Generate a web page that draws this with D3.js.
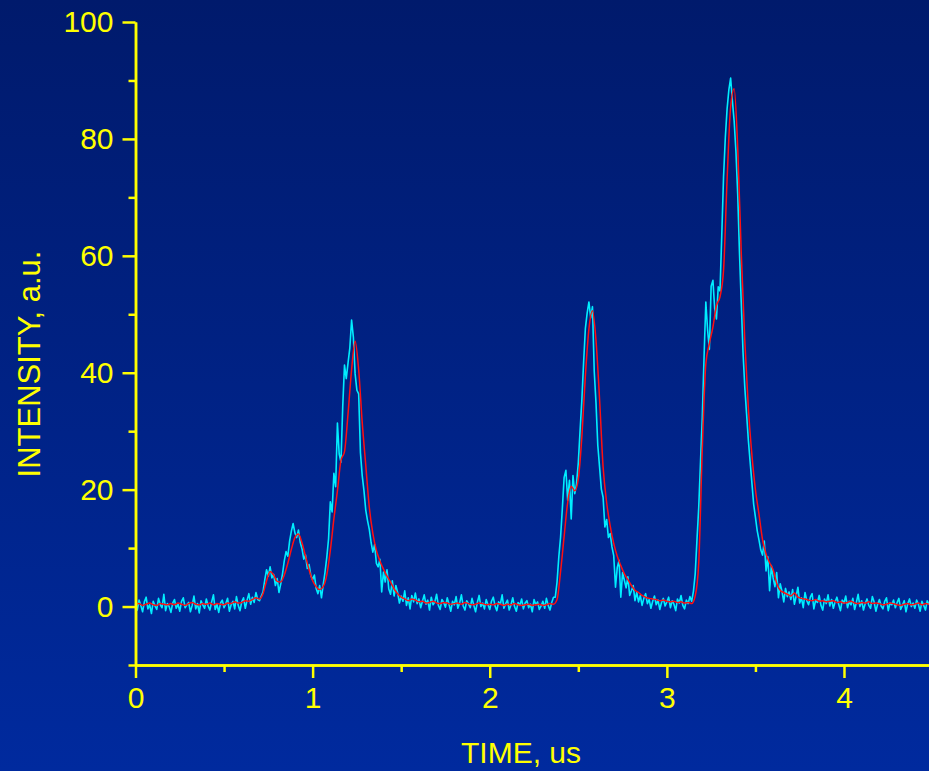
<!DOCTYPE html>
<html>
<head>
<meta charset="utf-8">
<script src="https://cdn.jsdelivr.net/npm/d3@7"></script>
<style>
  html, body { margin: 0; padding: 0; background: #00217f; }
  svg { display: block; }
</style>
</head>
<body>
<div id="chart"></div>
<script>
// Measured signal (cyan), one sample every 0.01 us starting at 0.
const rawStep = 0.01;
const rawValues = [
  0.4,-0.6,1.1,0.2,-0.9,0.8,1.6,-0.4,0.3,-1.2,
  0.9,0.1,-0.5,1.4,0.3,-0.2,2.1,-0.7,0.5,0.0,
  -1.0,0.6,1.2,-0.3,0.4,-0.8,0.9,1.5,-0.2,0.3,
  0.7,-0.9,0.2,1.8,-0.4,0.5,-1.1,1.0,0.3,-0.3,
  1.3,0.1,-0.6,0.8,2.0,-0.5,0.4,-1.0,0.6,1.1,
  -0.2,0.5,1.4,-0.8,0.3,0.9,-0.4,1.7,0.2,-0.7,
  0.8,1.5,-0.3,1.1,2.2,0.4,1.6,0.7,2.4,1.2,
  1.0,1.8,2.5,4.6,6.3,5.2,6.8,4.9,5.5,3.6,
  4.8,2.4,3.9,5.6,7.8,9.4,8.6,11.2,12.9,14.2,
  12.6,11.8,13.1,11.0,9.9,8.1,8.8,6.5,7.2,5.3,
  4.6,5.4,3.1,2.2,3.6,1.5,3.8,5.9,8.4,11.6,
  17.9,16.2,22.8,20.5,31.4,26.1,24.7,34.2,41.3,39.0,
  41.7,44.2,49.0,46.1,39.8,37.0,36.4,26.3,22.4,19.8,
  16.5,14.7,13.2,11.0,9.3,10.6,7.4,6.8,8.1,2.5,
  5.9,4.2,6.3,3.0,2.1,4.4,1.8,3.6,2.4,0.6,
  1.8,0.9,2.7,0.2,1.5,-0.4,1.9,0.8,2.3,0.5,
  1.3,-0.2,0.9,2.0,0.4,1.1,-0.6,1.6,0.3,0.8,
  2.1,0.2,-0.5,1.2,0.7,-0.1,1.5,0.4,-0.8,0.9,
  0.3,1.7,-0.3,0.6,2.0,0.1,-0.6,1.0,0.5,-0.2,
  1.4,0.2,-0.9,0.7,1.9,0.0,0.6,-0.4,1.2,0.3,
  -0.5,0.9,1.6,0.1,-0.7,0.8,0.4,2.0,-0.3,0.5,
  1.1,-0.6,0.3,1.5,0.0,-0.8,0.7,0.2,1.3,-0.4,
  0.6,1.0,-0.2,0.4,-0.9,1.2,0.3,0.8,-0.5,0.1,
  0.9,-0.3,1.4,0.2,-0.6,0.7,1.6,1.6,4.2,8.5,
  11.9,16.8,22.1,23.3,18.2,21.6,15.0,22.4,19.3,21.0,
  24.6,30.1,35.3,41.8,47.6,50.2,52.1,49.4,51.3,40.2,
  34.8,27.6,23.9,20.1,18.7,13.6,14.9,11.8,12.5,10.2,
  8.7,3.3,6.7,7.9,1.6,5.8,4.5,3.2,5.1,1.9,
  2.7,3.6,1.0,2.4,0.8,1.9,0.2,1.4,2.2,0.5,
  1.2,-0.3,0.9,1.8,0.3,1.1,-0.5,0.7,1.4,0.1,
  0.8,1.6,-0.2,1.0,0.4,-0.7,1.3,0.6,1.9,0.2,
  -0.4,1.1,0.5,1.7,0.9,2.6,5.6,11.4,17.0,24.8,
  32.4,42.7,52.1,47.3,44.0,54.8,55.8,51.0,49.2,54.7,
  54.0,63.5,73.5,80.2,85.1,88.4,90.4,86.5,83.0,77.8,
  70.5,60.5,52.0,43.5,37.5,33.0,28.5,24.8,21.2,17.5,
  15.3,13.0,11.4,9.7,8.8,11.2,6.1,8.5,2.7,7.0,
  4.9,3.4,5.8,1.5,3.9,2.6,0.8,3.1,1.7,2.5,
  1.2,2.9,0.4,1.8,3.3,0.6,1.5,-0.2,2.4,1.0,
  0.3,1.6,2.2,-0.4,1.1,0.7,1.9,0.2,-0.6,1.3,
  0.5,2.0,0.1,1.2,-0.3,0.8,1.6,0.4,-0.7,1.1,
  0.6,1.8,-0.2,0.9,0.3,1.4,-0.5,0.7,2.1,0.0,
  1.0,-0.6,0.5,1.3,0.2,-0.3,1.7,0.8,-0.8,0.4,
  1.2,0.1,-0.4,0.9,1.5,-0.7,0.6,0.3,1.1,-0.2,
  0.7,1.4,-0.5,0.2,1.0,-0.9,0.5,1.3,0.0,0.6,
  -0.3,1.1,0.4,-0.8,0.9,0.2,-0.6,1.0,0.3
];

// Fitted curve (red), one sample every 0.02 us starting at 0.
const fitStep = 0.02;
const fitValues = [
  0.3,0.5,0.2,0.4,0.6,0.3,0.2,0.5,0.4,0.3,
  0.5,0.3,0.6,0.4,0.2,0.5,0.7,0.4,0.3,0.5,
  0.4,0.6,0.3,0.5,0.4,0.3,0.6,0.5,0.8,0.6,
  0.7,1.0,0.9,1.2,1.5,1.3,2.2,4.4,6.0,5.4,
  4.3,4.2,5.4,7.4,9.8,11.8,12.4,10.9,8.6,6.3,
  4.4,3.4,2.9,3.4,5.4,9.6,15.0,19.8,25.0,26.5,
  33.0,40.5,45.4,40.5,31.5,24.2,17.0,12.5,9.6,7.8,
  6.4,5.2,4.2,3.0,2.2,1.6,1.3,1.0,1.3,1.1,
  0.8,0.9,0.6,0.7,0.9,0.6,0.5,0.7,0.6,0.4,
  0.5,0.6,0.4,0.7,0.5,0.3,0.4,0.6,0.5,0.3,
  0.4,0.3,0.5,0.4,0.2,0.4,0.3,0.5,0.3,0.2,
  0.3,0.4,0.2,0.3,0.4,0.2,0.3,0.5,0.4,1.2,
  6.0,12.0,17.8,20.6,19.8,21.8,29.0,39.5,47.5,50.6,
  45.5,35.5,23.9,17.8,13.8,10.8,8.6,7.0,5.6,4.6,
  3.6,2.8,2.4,1.9,1.6,1.4,1.3,1.2,1.0,1.1,
  0.9,0.8,0.9,0.7,0.8,0.6,0.7,0.5,1.8,7.5,
  27.0,41.5,45.0,47.8,51.5,53.0,57.5,73.0,85.5,88.6,
  78.5,60.5,45.5,34.0,26.0,20.0,15.8,11.5,9.0,7.5,
  6.3,4.0,2.8,2.4,2.1,1.8,2.3,1.6,1.4,1.3,
  1.1,1.0,1.2,0.9,1.0,0.8,0.9,1.0,0.7,0.8,
  0.6,0.7,0.9,0.6,0.5,0.7,0.6,0.8,0.5,0.6,
  0.5,0.3,0.4,0.6,0.5,0.3,0.2,0.4,0.5,0.3,
  0.4,0.6,0.3,0.5,0.4
];

const xMajorTicks = [0, 1, 2, 3, 4];
const xMinorTicks = [0.5, 1.5, 2.5, 3.5];
const yMajorTicks = [0, 20, 40, 60, 80, 100];
const yMinorTicks = [-10, 10, 30, 50, 70, 90];

const width = 929;
const height = 771;
const yellow = "#ffff00";
const font = "'Liberation Sans', Arial, sans-serif";

// Plot area in page pixels.
const plotLeft = 135.5, plotRight = 929, plotTop = 22, plotBottom = 665;

const x = d3.scaleLinear().domain([0, 4.48]).range([plotLeft, plotRight]);
const y = d3.scaleLinear().domain([-10, 100]).range([plotBottom, plotTop]);

const svg = d3.select("#chart")
  .append("svg")
    .attr("width", width)
    .attr("height", height);

// Background gradient, dark navy at the top to brighter blue at the bottom.
const grad = svg.append("defs")
  .append("linearGradient")
    .attr("id", "bg")
    .attr("x1", 0).attr("y1", 0)
    .attr("x2", 0).attr("y2", 1);
grad.append("stop").attr("offset", "0%").attr("stop-color", "#001a6c");
grad.append("stop").attr("offset", "100%").attr("stop-color", "#002a9e");

svg.append("rect")
  .attr("width", width)
  .attr("height", height)
  .attr("fill", "url(#bg)");

// Turn the value arrays into points.
const rawData = rawValues.map((v, i) => ({t: i * rawStep, v: v}));
const fitData = fitValues.map((v, i) => ({t: i * fitStep, v: v}));

const plot = svg.append("g");

plot.append("path")
  .datum(rawData)
  .attr("fill", "none")
  .attr("stroke", "#00eeff")
  .attr("stroke-width", 1.6)
  .attr("stroke-linejoin", "round")
  .attr("d", d3.line().x(d => x(d.t)).y(d => y(d.v)));

plot.append("path")
  .datum(fitData)
  .attr("fill", "none")
  .attr("stroke", "#ff1010")
  .attr("stroke-width", 1.5)
  .attr("d", d3.line().curve(d3.curveMonotoneX).x(d => x(d.t)).y(d => y(d.v)));

// Axes.
function styleAxis(g) {
  g.selectAll("path, line")
    .attr("stroke", yellow)
    .attr("stroke-width", 2.5);
  g.selectAll("text")
    .attr("fill", yellow)
    .style("font-family", font)
    .style("font-size", "30px");
}

svg.append("g")
  .attr("transform", "translate(0," + plotBottom + ")")
  .call(d3.axisBottom(x).tickValues(xMinorTicks).tickSize(7).tickSizeOuter(0).tickFormat(""))
  .call(styleAxis);

svg.append("g")
  .attr("transform", "translate(0," + plotBottom + ")")
  .call(d3.axisBottom(x).tickValues(xMajorTicks).tickSize(13).tickSizeOuter(0).tickPadding(9).tickFormat(d3.format("d")))
  .call(styleAxis);

svg.append("g")
  .attr("transform", "translate(" + plotLeft + ",0)")
  .call(d3.axisLeft(y).tickValues(yMinorTicks).tickSize(7).tickSizeOuter(0).tickFormat(""))
  .call(styleAxis);

svg.append("g")
  .attr("transform", "translate(" + plotLeft + ",0)")
  .call(d3.axisLeft(y).tickValues(yMajorTicks).tickSize(13).tickSizeOuter(0).tickPadding(9).tickFormat(d3.format("d")))
  .call(styleAxis);

// Axis titles.
svg.append("text")
  .attr("x", 521)
  .attr("y", 763)
  .attr("text-anchor", "middle")
  .attr("fill", yellow)
  .style("font-family", font)
  .style("font-size", "30px")
  .text("TIME, us");

svg.append("text")
  .attr("transform", "translate(40,364) rotate(-90)")
  .attr("text-anchor", "middle")
  .attr("fill", yellow)
  .style("font-family", font)
  .style("font-size", "31px")
  .text("INTENSITY, a.u.");
</script>
</body>
</html>
